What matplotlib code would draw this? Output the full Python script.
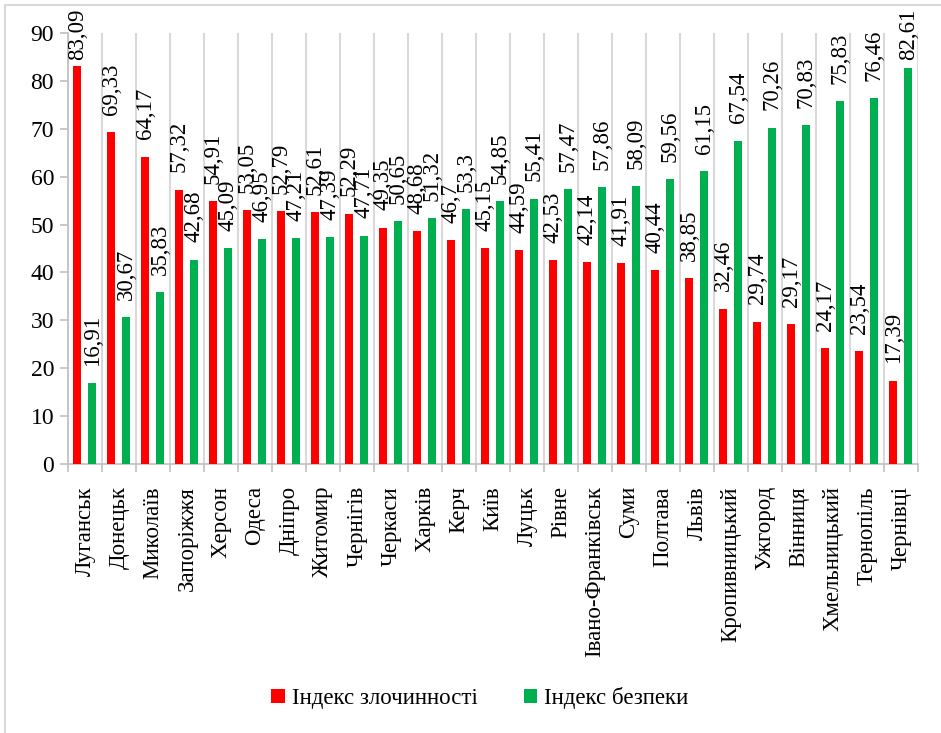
import numpy as np
import matplotlib.pyplot as plt
import matplotlib.font_manager as fm
from matplotlib.patches import Rectangle

cities = ['Луганськ', 'Донецьк', 'Миколаїв', 'Запоріжжя', 'Херсон', 'Одеса',
          'Дніпро', 'Житомир', 'Чернігів', 'Черкаси', 'Харків', 'Керч', 'Київ',
          'Луцьк', 'Рівне', 'Івано-Франківськ', 'Суми', 'Полтава', 'Львів',
          'Кропивницький', 'Ужгород', 'Вінниця', 'Хмельницький', 'Тернопіль',
          'Чернівці']
crime = [83.09, 69.33, 64.17, 57.32, 54.91, 53.05, 52.79, 52.61, 52.29, 49.35,
         48.68, 46.7, 45.15, 44.59, 42.53, 42.14, 41.91, 40.44, 38.85, 32.46,
         29.74, 29.17, 24.17, 23.54, 17.39]
safety = [16.91, 30.67, 35.83, 42.68, 45.09, 46.95, 47.21, 47.39, 47.71, 50.65,
          51.32, 53.3, 54.85, 55.41, 57.47, 57.86, 58.09, 59.56, 61.15, 67.54,
          70.26, 70.83, 75.83, 76.46, 82.61]
series_names = ['Індекс злочинності', 'Індекс безпеки']
colors = ['#ff0000', '#00b050']

# pick a Times-like serif font with Cyrillic
serif = 'Liberation Serif'
for cand in ['Liberation Serif', 'PT Serif', 'Noto Serif', 'DejaVu Serif']:
    path = fm.findfont(fm.FontProperties(family=cand), fallback_to_default=False)
    if 'Serif' in path or 'serif' in path.lower():
        serif = cand
        break
plt.rcParams['font.family'] = [serif, 'DejaVu Serif']

fig = plt.figure(figsize=(9.41, 7.33), dpi=100)
fig.patches.append(Rectangle((5 / 941, -0.1), 1.1, 1.1 - 5 / 733,
                             transform=fig.transFigure, fill=False,
                             edgecolor='#d9d9d9', lw=1.5))
ax = fig.add_axes([68 / 941, 1 - 464 / 733, 850 / 941, 431 / 733])

x = np.arange(len(cities))
w = 0.23
b1 = ax.bar(x - 0.23, crime, w, color=colors[0], label=series_names[0], zorder=3)
b2 = ax.bar(x + 0.21, safety, w, color=colors[1], label=series_names[1], zorder=3)

def fmt(v):
    return f'{v:g}'.replace('.', ',')

for bars, vals in [(b1, crime), (b2, safety)]:
    for r, v in zip(bars, vals):
        ylab = min(v + 3.6, 84.3)
        ax.text(r.get_x() + r.get_width() / 2, ylab, fmt(v), rotation=90,
                ha='center', va='bottom', fontsize=16.5, zorder=4)

ax.set_xlim(-0.5, len(cities) - 0.5)
ax.set_ylim(0, 90)
ax.set_yticks(range(0, 91, 10))
ax.tick_params(axis='y', labelsize=17, color='#bfbfbf', length=6, width=1.2, pad=4)

# category boundaries: grid lines and ticks
ax.set_xticks(np.arange(-0.5, len(cities), 1), minor=False)
ax.set_xticklabels([])
ax.set_xticks(x, minor=True)
ax.set_xticklabels(cities, minor=True, rotation=90, fontsize=16.5, va='top')
ax.tick_params(axis='x', which='major', color='#bfbfbf', length=6, width=1.2)
ax.tick_params(axis='x', which='minor', length=0, pad=16)
ax.grid(axis='x', which='major', color='#d9d9d9', lw=1.5, zorder=0)

for s in ['top', 'right']:
    ax.spines[s].set_visible(False)
for s in ['left', 'bottom']:
    ax.spines[s].set_color('#bfbfbf')
    ax.spines[s].set_linewidth(1.2)

fig.legend(loc='center', bbox_to_anchor=(0.51, 1 - 698 / 733), ncol=2,
           frameon=False, fontsize=16.5, handlelength=0.6, handleheight=0.6,
           handletextpad=0.3, columnspacing=2.0)

fig.savefig('out.png', dpi=100)
